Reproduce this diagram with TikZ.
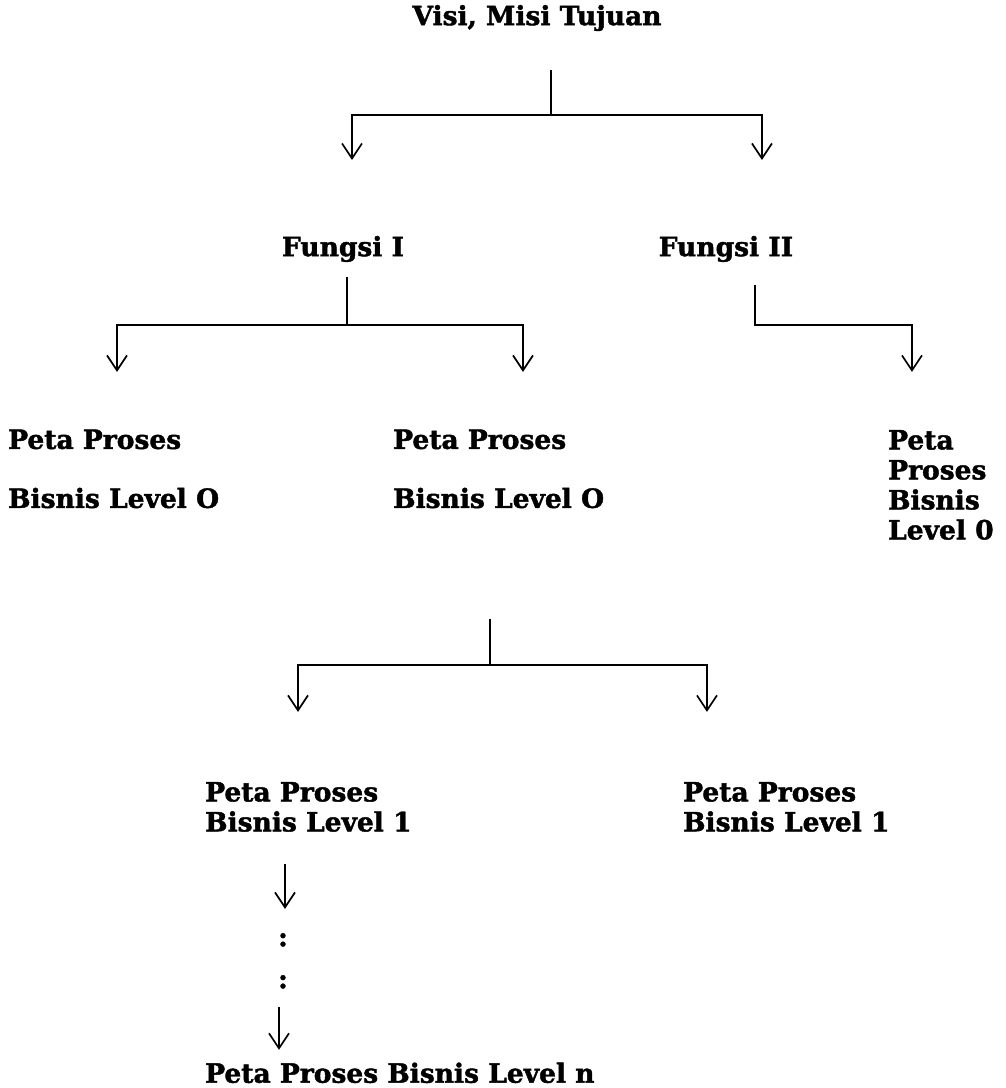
\documentclass[tikz,border=0pt]{standalone}
\usepackage{fontspec}
\setmainfont{DejaVu Serif}[BoldFeatures={FakeBold=1.6}]
\usepackage{tikz}
\usetikzlibrary{arrows.meta}

\tikzset{
	lbl/.style = {font=\bfseries\fontsize{26.5}{30}\selectfont, align=left, inner sep=0pt},
	link/.style = {->, line width=1.7pt},
	>={Straight Barb[length=15pt, width=20pt]}
}

\begin{document}
\begin{tikzpicture}
	\useasboundingbox (0,0) rectangle (1005pt,-1088pt);

	\node[lbl] (vmt) at (537pt,-18pt) {Visi, Misi Tujuan};
	
	\node[lbl, below of= vmt, xshift=-194pt, yshift=-202.5pt] (fungsiA) {Fungsi I};
	
	\node[lbl, right of= fungsiA, xshift=354.5pt] (fungsiB) {Fungsi II};
	
	\node[lbl, below of= fungsiA, anchor=west, xshift=-335pt, yshift=-191.5pt] (petaA) {Peta Proses\\[29pt]Bisnis Level O};
	
	\node[lbl, below of= fungsiA, anchor=west, xshift=50pt, yshift=-191.5pt] (petaB) {Peta Proses\\[29pt]Bisnis Level O};
	
	\node[lbl, below of= fungsiB, anchor=west, xshift=162pt, yshift=-207.5pt] (petaC) {Peta\\Proses\\Bisnis\\Level 0};
	
	\node[lbl, below of= fungsiA, anchor=west, xshift=-138pt, yshift=-529.5pt] (satuA) {Peta Proses\\Bisnis Level 1};
	
	\node[lbl, below of= fungsiB, anchor=west, xshift=-43pt, yshift=-529.5pt] (satuB) {Peta Proses\\Bisnis Level 1};
	
	\node[lbl, below of= fungsiA, xshift=-60pt, yshift=-662.5pt] (dotA) {:};
	
	\node[lbl, below of= dotA, yshift=-13.5pt] (dotB) {:};
	
	\node[lbl, below of= dotB, anchor=west, xshift=-78pt, yshift=-62.5pt] (levelN) {Peta Proses Bisnis Level n};
	
	\draw[link] ([shift={(14pt,-52pt)}]vmt.center) -- ++(0,-45pt) -| ([shift={(9pt,89pt)}]fungsiA.center);
	
	\draw[link] ([shift={(14pt,-97pt)}]vmt.center) -| ([shift={(36pt,89pt)}]fungsiB.center);
	
	\draw[link] ([shift={(4pt,-28pt)}]fungsiA.center) -- ++(0,-48pt) -| ([shift={(109pt,97pt)}]petaA.west);
	
	\draw[link] ([shift={(4pt,-76pt)}]fungsiA.center) -| ([shift={(130pt,97pt)}]petaB.west);
	
	\draw[link] ([shift={(29pt,-36pt)}]fungsiB.center) -- ++(0,-40pt) -| ([shift={(24pt,113pt)}]petaC.west);
	
	\draw[link] ([shift={(97pt,-150pt)}]petaB.west) -- ++(0,-46pt) -| ([shift={(93pt,95pt)}]satuA.west);
	
	\draw[link] ([shift={(97pt,-196pt)}]petaB.west) -| ([shift={(24pt,95pt)}]satuB.west);
	
	\draw[link] ([shift={(80pt,-57pt)}]satuA.west) -- ([shift={(2pt,31pt)}]dotA.center);
	
	\draw[link] ([shift={(-4pt,-25pt)}]dotB.center) -- ([shift={(74pt,23pt)}]levelN.west);
\end{tikzpicture}
\end{document}
